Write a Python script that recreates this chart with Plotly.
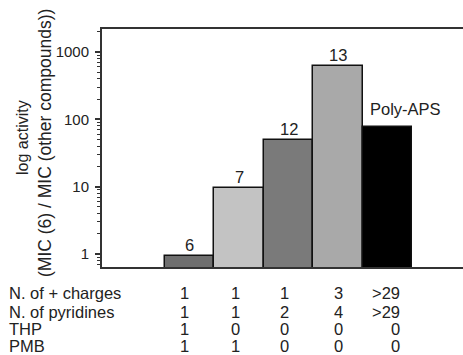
import math
import plotly.graph_objects as go

# ---- data ----
bar_labels = ["6", "7", "12", "13", "Poly-APS"]
activity = [0.95, 9.4, 49.5, 630, 77]
bar_colors = ["#6f6f6f", "#c3c3c3", "#7a7a7a", "#a9a9a9", "#000000"]

row_names = ["N. of + charges", "N. of pyridines", "THP", "PMB"]
charges = ["1", "1", "1", "3", ">29"]
pyridines = ["1", "1", "2", "4", ">29"]
thp = ["1", "0", "0", "0", "0"]
pmb = ["1", "1", "0", "0", "0"]
rows = [charges, pyridines, thp, pmb]

y_tick_vals = [1, 10, 100, 1000]
y_tick_text = ["1", "10", "100", "1000"]

FONT = "Liberation Sans, Arial, Helvetica, sans-serif"
xs = list(range(len(activity)))

fig = go.Figure()
fig.add_trace(go.Bar(
    x=xs, y=activity, width=1.0,
    marker=dict(color=bar_colors, line=dict(color="#111111", width=1.5)),
    hoverinfo="skip", showlegend=False,
))

annotations = []
# bar labels (annotation y on a log axis is given in log10 units)
for i, (lab, v) in enumerate(zip(bar_labels, activity)):
    xshift = 18 if lab == "Poly-APS" else 0
    yshift = 7 if lab == "Poly-APS" else 0
    annotations.append(dict(x=i, y=math.log10(v), xref="x", yref="y", text=lab,
                            showarrow=False, xanchor="center", yanchor="bottom",
                            xshift=xshift, yshift=yshift,
                            font=dict(family=FONT, size=16.5, color="#222222")))

# table rows
row_shift = [-26, -45, -62, -79]
col_shift = [-5, -4, -4, 0, 14]
for r, (name, vals) in enumerate(zip(row_names, rows)):
    annotations.append(dict(x=0, y=0, xref="paper", yref="paper", text=name, showarrow=False,
                            xanchor="left", yanchor="middle", xshift=-95, yshift=row_shift[r],
                            font=dict(family=FONT, size=16.5, color="#222222")))
    for c, val in enumerate(vals):
        anchor = "right" if c == 4 else "center"
        annotations.append(dict(x=xs[c], y=0, xref="x", yref="paper", text=val, showarrow=False,
                                xanchor=anchor, yanchor="middle", xshift=col_shift[c],
                                yshift=row_shift[r],
                                font=dict(family=FONT, size=16.5, color="#222222")))

# y-axis title (two lines)
annotations.append(dict(x=0, y=0.5, xref="paper", yref="paper", text="log activity",
                        textangle=-90, showarrow=False, xanchor="center", yanchor="middle",
                        xshift=-80, yshift=10,
                        font=dict(family=FONT, size=16, color="#222222")))
annotations.append(dict(x=0, y=0.5, xref="paper", yref="paper",
                        text="(MIC (6) / MIC (other compounds))",
                        textangle=-90, showarrow=False, xanchor="center", yanchor="middle",
                        xshift=-57, yshift=5,
                        font=dict(family=FONT, size=17.5, color="#222222")))

minor_vals = [m * 10 ** d for d in range(-1, 4) for m in range(2, 10)]

fig.update_layout(
    width=463, height=355,
    margin=dict(l=102, r=0, t=29, b=88),
    paper_bgcolor="white", plot_bgcolor="white",
    annotations=annotations,
    bargap=0,
    xaxis=dict(range=[-1.77, 5.52], showticklabels=False, ticks="", showgrid=False,
               zeroline=False, showline=True, linecolor="#333333", linewidth=2, mirror=True),
    yaxis=dict(type="log", range=[-0.193, 3.342], tickmode="array",
               tickvals=y_tick_vals, ticktext=y_tick_text,
               ticks="outside", ticklen=5, tickwidth=1.5, tickcolor="#333333",
               ticklabelstandoff=3,
               minor=dict(tickmode="array", tickvals=minor_vals, ticks="outside",
                          ticklen=3, tickwidth=1, tickcolor="#333333", showgrid=False),
               showgrid=False, zeroline=False, showline=True, linecolor="#333333",
               linewidth=2, mirror=False,
               tickfont=dict(family=FONT, size=15, color="#222222")),
)

fig.write_html("out.html", config={"displayModeBar": False},
               post_script="document.body.style.margin='0';document.body.style.padding='0';")
